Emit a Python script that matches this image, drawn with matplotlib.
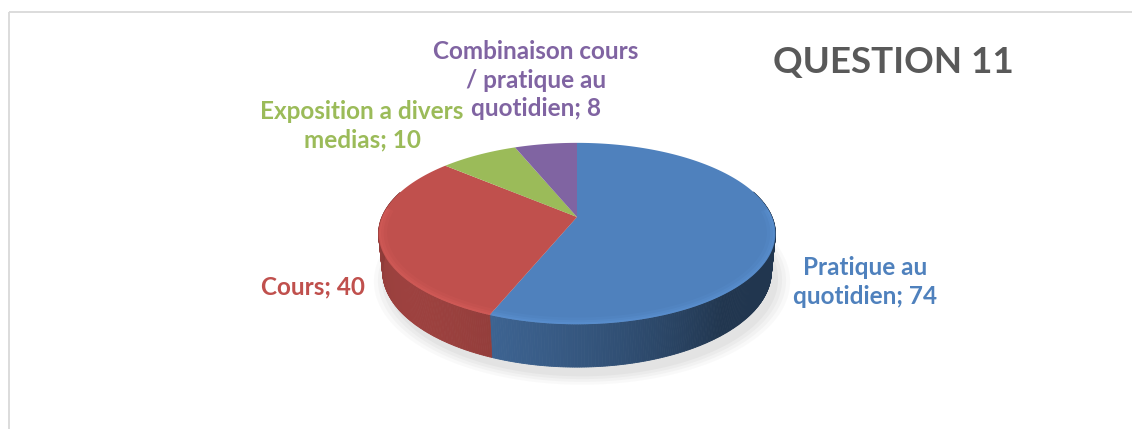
import numpy as np
import matplotlib
matplotlib.use("Agg")
import matplotlib.pyplot as plt
from matplotlib.patches import Polygon, Rectangle

# ---- data ----
categories = ["Pratique au quotidien", "Cours", "Exposition a divers medias",
              "Combinaison cours / pratique au quotidien"]
values = [74, 40, 10, 8]
labels = ["Pratique au\nquotidien; 74", "Cours; 40",
          "Exposition a divers\nmedias; 10",
          "Combinaison cours\n/ pratique au\nquotidien; 8"]
colors = ["#4f81bd", "#c0504d", "#9bbb59", "#8064a2"]
title = "QUESTION 11"

W, H = 1132, 429
fig = plt.figure(figsize=(W / 100, H / 100), dpi=100)
ax = fig.add_axes([0, 0, 1, 1])
ax.set_xlim(0, W)
ax.set_ylim(H, 0)
ax.axis("off")

# chart frame
ax.add_patch(Rectangle((8.5, 11.5), W + 20, H + 20, fill=False,
                       edgecolor="#d9d9d9", lw=1.3))

# ---- 3D perspective pie ----
cx, cy = 577, 217
f_, D = 956.0, 4.9
elev = np.deg2rad(26.7)
se, ce = np.sin(elev), np.cos(elev)
depth = 0.2185


def proj(t, z=0.0, r=1.0):
    X, Y, Z = r * np.cos(t), r * np.sin(t), z
    dist = D + Y * ce - Z * se
    xs = cx + f_ * X / dist
    ys = cy - f_ * (Y * se + Z * ce) / dist
    return np.column_stack([np.atleast_1d(xs), np.atleast_1d(ys)])


total = float(sum(values))
start = np.pi / 2
angles = []
a = start
for v in values:
    span = 2 * np.pi * v / total
    angles.append((a, a - span))
    a -= span

# soft shadow
for grow, al in [(1.07, 0.04), (1.05, 0.05), (1.03, 0.06), (1.01, 0.07)]:
    pts = proj(np.linspace(0, 2 * np.pi, 200), -depth - 0.02, grow)
    pts = pts + np.array([5, 4])
    ax.add_patch(Polygon(pts, closed=True, facecolor="#7f7f7f", alpha=al,
                         edgecolor="none", zorder=1))

L = np.array([-0.6, -0.5, 0.6])
L = L / np.linalg.norm(L)


def shade(base, t):
    n = np.array([np.cos(t), np.sin(t), 0.0])
    b = 0.42 + 0.5 * max(0.0, float(n @ L))
    rgb = np.array(matplotlib.colors.to_rgb(base))
    return np.clip(rgb * b, 0, 1)


# side walls
for (a1, a2), col in zip(angles, colors):
    ts = np.linspace(a1, a2, max(4, int(abs(a2 - a1) / 0.01)))
    for t0, t1 in zip(ts[:-1], ts[1:]):
        tm = 0.5 * (t0 + t1)
        if np.sin(tm) > 0.3:
            continue
        top = proj(np.array([t0, t1]), 0.0)
        bot = proj(np.array([t1, t0]), -depth)
        ax.add_patch(Polygon(np.vstack([top, bot]), closed=True,
                             facecolor=shade(col, tm), edgecolor=shade(col, tm),
                             lw=0.6, zorder=2))

# top faces
for (a1, a2), col in zip(angles, colors):
    ts = np.linspace(a1, a2, 200)
    arc = proj(ts, 0.0)
    pts = np.vstack([[cx, cy], arc])
    ax.add_patch(Polygon(pts, closed=True, facecolor=col, edgecolor="none",
                         zorder=3))

# soft bevel highlight along front rim
for (a1, a2), col in zip(angles, colors):
    lo, hi = min(a1, a2), max(a1, a2)
    ts = np.linspace(lo, hi, 200)
    ts = ts[np.sin(ts) < 0.1]
    if len(ts) < 2:
        continue
    light = np.clip(np.array(matplotlib.colors.to_rgb(col)) * 1.12 + 0.04, 0, 1)
    for rr, lw, al in [(0.975, 5, 0.12), (0.985, 3, 0.18), (0.993, 1.5, 0.25)]:
        rim = proj(ts, 0.0, rr)
        ax.plot(rim[:, 0], rim[:, 1], color=light, lw=lw, alpha=al, zorder=4,
                solid_capstyle="butt")

# ---- labels ----
font = "Lato"
label_pos = [(865, 282), (313, 287), (362, 126), (536, 80)]
for lab, col, (x, y) in zip(labels, colors, label_pos):
    ax.text(x, y, lab, color=col, fontsize=17.5, fontweight="bold",
            family=font, ha="center", va="center", multialignment="center",
            linespacing=1.27, zorder=6)

ax.text(893, 62, title, color="#595959", fontsize=26.5, fontweight="bold",
        family=font, ha="center", va="center", zorder=6)

fig.savefig("out.png", dpi=100)
